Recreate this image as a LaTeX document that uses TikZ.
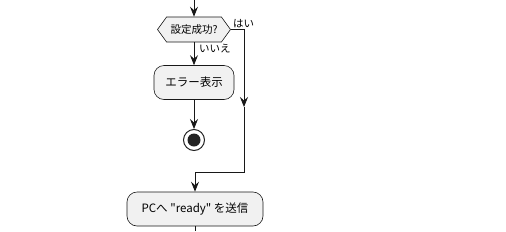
\documentclass[tikz,border=0pt]{standalone}
\usepackage{fontspec}
\setmainfont{Noto Sans CJK JP}[Ligatures=TeXOff]
\definecolor{line}{RGB}{24, 24, 24}
\definecolor{boxfill}{RGB}{241, 241, 241}
\definecolor{dot}{RGB}{34, 34, 34}
\usetikzlibrary{shapes.symbols, arrows.meta, positioning}

\begin{document}
\begin{tikzpicture}[x=1pt, y=-1pt,
		act/.style={rectangle, rounded corners=10pt, draw=line, fill=boxfill,
			line width=0.6pt, minimum height=34pt, align=center, font=\fontsize{11.5}{13}\selectfont},
		cond/.style={signal, signal to=east and west, signal pointer angle=108,
			draw=line, fill=boxfill, line width=0.6pt, minimum height=25pt,
			minimum width=73pt, inner xsep=2pt, font=\fontsize{10.5}{12}\selectfont},
		stopnode/.style={circle, draw=dot, line width=1pt, minimum size=21pt, inner sep=0pt,
			path picture={\fill[dot] (path picture bounding box.center) circle (6.5pt);}},
		lbl/.style={font=\fontsize{10.5}{12}\selectfont, inner sep=1pt},
		flow/.style={-{Stealth[length=10pt, width=8pt, inset=3.5pt]}, draw=line, line width=0.8pt},
		plain/.style={draw=line, line width=0.8pt}
		]
		\useasboundingbox (0,0) rectangle (506,231);
		% Noeuds
		\coordinate (top) at (194, 0);
		\node[cond] (ok)   at (194, 29.5) {設定成功?};
		\node[act, minimum width=80pt]  (err)  at (194, 82.5) {エラー表示};
		\node[stopnode] (stop) at (194, 140) {};
		\node[act, minimum width=136pt] (send) at (195, 209) {PCへ "ready" を送信};
		\coordinate (yes)   at (244, 107);
		\coordinate (merge) at (244, 172);
		\coordinate (bot)   at (195, 231);
		
		% Fleches
		\draw[flow] (top) -- (ok.north);
		\draw[flow] (ok.south) -- (err.north);
		\node[lbl, anchor=north west] at ([xshift=4pt, yshift=-1pt]ok.south) {いいえ};
		\draw[flow] (err.south) -- (stop.north);
		\draw[flow] (ok.east) -| (yes);
		\node[lbl, anchor=south west] at ([xshift=1pt]ok.east) {はい};
		\draw[plain] (yes) |- (send.north |- merge);
		\draw[flow] (send.north |- merge) -- (send.north);
		\draw[plain] (send.south) -- (bot);
	\end{tikzpicture}
\end{document}
